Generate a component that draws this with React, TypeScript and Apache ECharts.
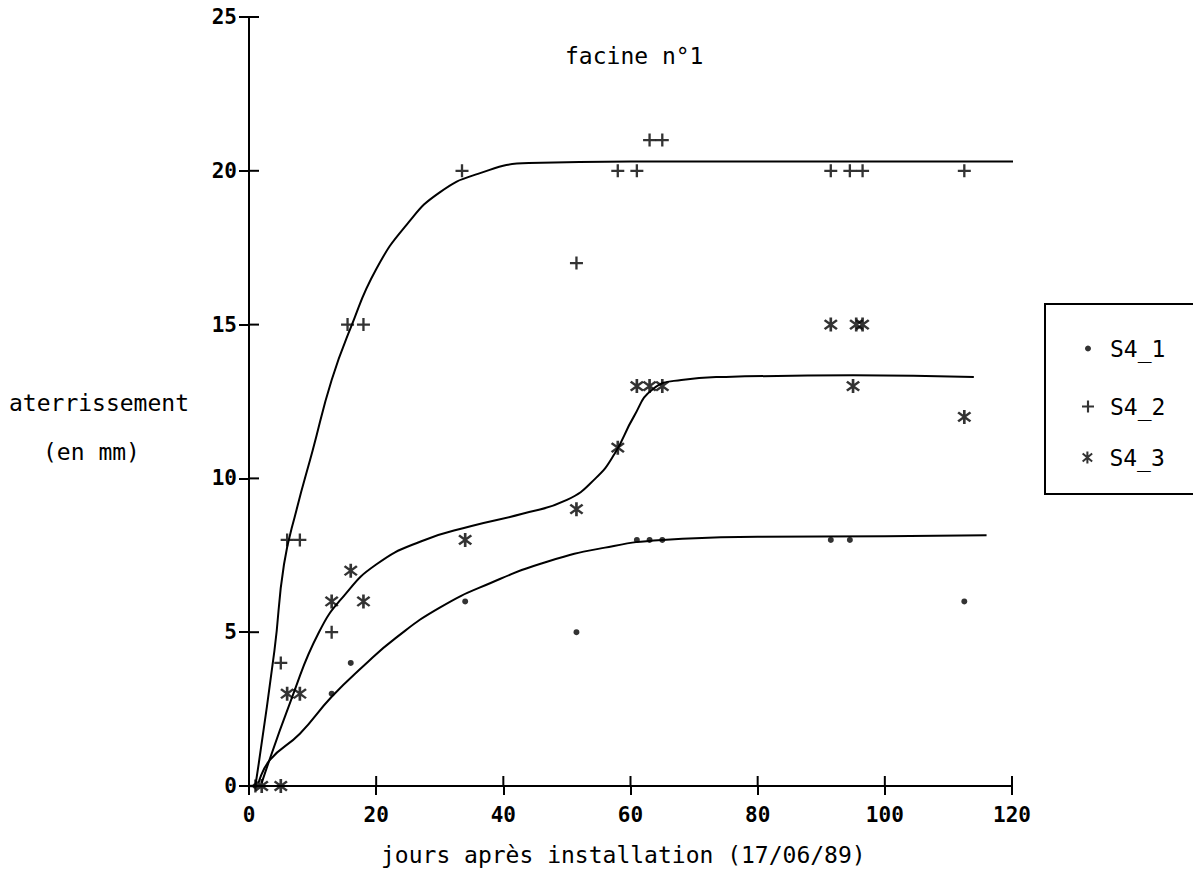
import React, { useEffect, useRef } from "react";
import * as echarts from "echarts";

// ---- data ----
const X_TICKS = [0, 20, 40, 60, 80, 100, 120];
const Y_TICKS = [0, 5, 10, 15, 20, 25];

const S4_1_POINTS: [number, number][] = [
  [1, 0], [13, 3], [16, 4], [34, 6], [51.5, 5], [61, 8], [63, 8], [65, 8],
  [91.5, 8], [94.5, 8], [112.5, 6],
];
const S4_2_POINTS: [number, number][] = [
  [1, 0], [5, 4], [6, 8], [8, 8], [13, 5], [15.5, 15], [18, 15], [33.5, 20],
  [51.5, 17], [58, 20], [61, 20], [63, 21], [65, 21], [91.5, 20], [94.5, 20],
  [96.5, 20], [112.5, 20],
];
const S4_3_POINTS: [number, number][] = [
  [2, 0], [5, 0], [6, 3], [8, 3], [13, 6], [16, 7], [18, 6], [34, 8],
  [51.5, 9], [58, 11], [61, 13], [63, 13], [65, 13], [91.5, 15], [95.5, 15],
  [96.5, 15], [95, 13], [112.5, 12],
];

const FIT_S4_1: [number, number][] = [
  [1.5, 0.1], [3.3, 0.85], [8, 1.7], [13, 2.9], [18, 3.9], [23, 4.8],
  [30, 5.8], [38, 6.6], [47, 7.3], [56, 7.75], [65, 8.0], [80, 8.1],
  [100, 8.12], [116, 8.15],
];
const FIT_S4_2: [number, number][] = [
  [1, 0], [4, 4.4], [5.5, 7.2], [7.5, 9.0], [10, 10.9], [13, 13.2], [16, 14.9],
  [20, 16.8], [25, 18.3], [30, 19.3], [36, 19.9], [44, 20.25], [60, 20.3],
  [80, 20.3], [100, 20.3], [123.3, 20.3],
];
const FIT_S4_3: [number, number][] = [
  [2, 0.1], [6.8, 2.9], [11, 5.0], [15, 6.2], [20, 7.2], [27, 7.95],
  [35, 8.45], [43, 8.85], [50, 9.3], [54.5, 10.0], [57.5, 10.8], [60.5, 12.0],
  [63.5, 12.9], [68, 13.2], [75, 13.3], [95, 13.35], [114, 13.3],
];

const FONT = "'DejaVu Sans Mono', 'Liberation Mono', monospace";

const PLUS_PATH =
  "path://M5.75,0 L8.25,0 L8.25,5.75 L14,5.75 L14,8.25 L8.25,8.25 L8.25,14 L5.75,14 L5.75,8.25 L0,8.25 L0,5.75 L5.75,5.75 Z";
const STAR_PATH =
  "path://M5.8,0 L8.2,0 L8.2,14 L5.8,14 Z " +
  "M2.2,1.6 L13.3,10.7 L11.8,12.4 L0.7,3.3 Z " +
  "M13.3,3.3 L2.2,12.4 L0.7,10.7 L11.8,1.6 Z";

export default function App() {
  const ref = useRef<HTMLDivElement>(null);

  useEffect(() => {
    if (!ref.current) return;
    const chart = echarts.init(ref.current, undefined, { renderer: "svg" });

    const fitLine = (name: string, data: [number, number][]) => ({
      name,
      type: "line",
      data,
      smooth: 0.5,
      symbol: "none",
      clip: false,
      lineStyle: { color: "#000", width: 2 },
      z: 2,
    });

    const legendItem = (
      name: string,
      top: number,
      left: number,
      w: number,
      h: number,
      padLeft: number
    ) => ({
      data: [name],
      orient: "vertical",
      left,
      top,
      padding: 0,
      itemWidth: w,
      itemHeight: h,
      selectedMode: false,
      textStyle: {
        fontFamily: FONT,
        fontSize: 23,
        color: "#000",
        padding: [0, 0, 0, padLeft],
      },
    });

    const tickStyle = { color: "#000", width: 2 };

    chart.setOption({
      animation: false,
      backgroundColor: "#fff",
      grid: { left: 249, right: 181, top: 17, bottom: 96 },
      xAxis: {
        type: "value",
        min: 0,
        max: 120,
        interval: 20,
        axisLine: { show: true, onZero: false, lineStyle: { color: "#000", width: 2 } },
        axisTick: { show: true, length: 9, inside: false, lineStyle: tickStyle },
        axisLabel: {
          fontFamily: FONT,
          fontSize: 21,
          fontWeight: "bold",
          color: "#000",
          margin: 18,
          formatter: (v: number) => (X_TICKS.includes(v) ? String(v) : ""),
        },
        splitLine: { show: false },
      },
      yAxis: {
        type: "value",
        min: 0,
        max: 25,
        interval: 5,
        axisLine: { show: true, onZero: false, lineStyle: { color: "#000", width: 2 } },
        axisTick: { show: true, length: 10, inside: false, lineStyle: tickStyle },
        axisLabel: {
          fontFamily: FONT,
          fontSize: 21,
          fontWeight: "bold",
          color: "#000",
          margin: 12,
          formatter: (v: number) => (Y_TICKS.includes(v) ? String(v) : ""),
        },
        splitLine: { show: false },
      },
      legend: [
        legendItem("S4_1", 337, 1085, 6, 6, 14),
        legendItem("S4_2", 395, 1082, 12, 12, 11),
        legendItem("S4_3", 446, 1082, 12, 12, 11),
      ],
      series: [
        fitLine("courbe S4_1", FIT_S4_1),
        fitLine("courbe S4_2", FIT_S4_2),
        fitLine("courbe S4_3", FIT_S4_3),
        {
          name: "S4_1",
          type: "scatter",
          data: S4_1_POINTS,
          symbol: "circle",
          symbolSize: 6,
          itemStyle: { color: "#000" },
          z: 3,
        },
        {
          name: "S4_2",
          type: "scatter",
          data: S4_2_POINTS,
          symbol: PLUS_PATH,
          symbolSize: 13,
          itemStyle: { color: "#000" },
          z: 3,
        },
        {
          name: "S4_3",
          type: "scatter",
          data: S4_3_POINTS,
          symbol: STAR_PATH,
          symbolSize: 14,
          itemStyle: { color: "#000" },
          z: 3,
        },
      ],
    });

    const graphics: any[] = [
      {
        type: "text",
        left: 565,
        top: 44,
        style: { text: "facine n°1", font: `23px ${FONT}`, fill: "#000" },
      },
      {
        type: "text",
        left: 9,
        top: 391,
        style: { text: "aterrissement", font: `23px ${FONT}`, fill: "#000" },
      },
      {
        type: "text",
        left: 43,
        top: 440,
        style: { text: "(en mm)", font: `23px ${FONT}`, fill: "#000" },
      },
      {
        type: "text",
        left: 381,
        top: 843,
        style: {
          text: "jours après installation (17/06/89)",
          font: `23px ${FONT}`,
          fill: "#000",
        },
      },
      {
        type: "rect",
        shape: { x: 1045, y: 304, width: 170, height: 190 },
        style: { fill: "none", stroke: "#000", lineWidth: 2 },
      },
    ];

    // inner halves of the crossing tick marks, placed via the axes' scales
    X_TICKS.forEach((v) => {
      const p = chart.convertToPixel({ gridIndex: 0 }, [v, 0]) as number[];
      graphics.push({
        type: "line",
        shape: { x1: p[0], y1: p[1], x2: p[0], y2: p[1] - 10 },
        style: { stroke: "#000", lineWidth: 2 },
      });
    });
    Y_TICKS.forEach((v) => {
      const p = chart.convertToPixel({ gridIndex: 0 }, [0, v]) as number[];
      graphics.push({
        type: "line",
        shape: { x1: p[0], y1: p[1], x2: p[0] + 10, y2: p[1] },
        style: { stroke: "#000", lineWidth: 2 },
      });
    });
    chart.setOption({ graphic: graphics });

    return () => chart.dispose();
  }, []);

  return (
    <div
      ref={ref}
      style={{
        position: "fixed",
        left: 0,
        top: 0,
        width: 1193,
        height: 882,
        background: "#fff",
      }}
    />
  );
}
